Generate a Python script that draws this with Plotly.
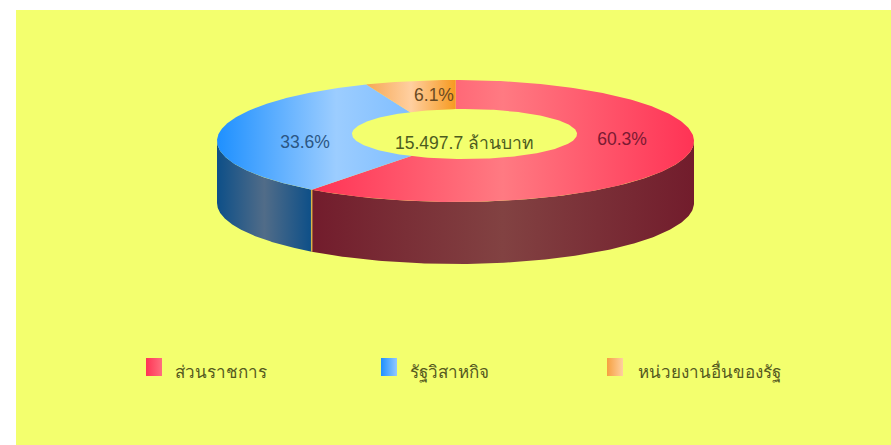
import numpy as np
import plotly.graph_objects as go

# --- data ---
categories = ["ส่วนราชการ", "รัฐวิสาหกิจ", "หน่วยงานอื่นของรัฐ"]
shares = [60.3, 33.6, 6.1]
total_label = "15.497.7 ล้านบาท"

# --- styling / geometry (not data) ---
W, H = 891, 445
BG = "#F3FF6E"
CX, CY, RX, RY, DEPTH = 455.5, 141.0, 238.5, 61.0, 62.0
HCX, HCY, HRX, HRY = 464.5, 134.0, 112.5, 25.0
FONT = "Liberation Sans, Noto Sans, DejaVu Sans, sans-serif"
THAI_FONT = "Noto Sans, Liberation Sans, DejaVu Sans, sans-serif"

top_scales = [
    ["#FF3355", "#FF7A82", "#FF3355"],
    ["#1E90FF", "#9CCDFF", "#6FB5FF"],
    ["#F6A855", "#FFCFA0", "#F79A20"],
]
side_scales = [
    ["#721C2C", "#824242", "#721C2C"],
    ["#0D4F88", "#516C88", "#0D4F88"],
    ["#8A5A20", "#A08050", "#8A5A20"],
]
swatch_scales = [
    ["#FF3355", "#FF6E7E"],
    ["#1E90FF", "#92C8FF"],
    ["#F6A040", "#FFD0A0"],
]
text_colors = ["#7A1A32", "#2B5684", "#6A4A22"]
pct_pos = [(622, 141), (305, 144), (434, 97)]
swatch_x = [146, 381, 607]
legend_text_x = [175, 410, 638]
legend_y = 374


def scale(colors):
    return [[i / (len(colors) - 1), c] for i, c in enumerate(colors)]


def ex(a, cx=CX, rx=RX):
    return cx + rx * np.sin(a)


def ey(a, cy=CY, ry=RY):
    return cy - ry * np.cos(a)


fig = go.Figure()


def poly(xs, ys, colors, orient="horizontal"):
    fig.add_trace(go.Scatter(
        x=xs, y=ys, mode="lines", fill="toself", line=dict(width=0),
        fillgradient=dict(type=orient, colorscale=scale(colors)),
        hoverinfo="skip", showlegend=False))


edges = np.concatenate([[0], np.cumsum(shares)]) / sum(shares) * 2 * np.pi

# side walls (only the front half of the cylinder is visible)
for i in range(len(shares)):
    a0, a1 = max(edges[i], np.pi / 2), min(edges[i + 1], 3 * np.pi / 2)
    if a1 <= a0:
        continue
    a = np.linspace(a0, a1, 160)
    xs = np.concatenate([ex(a), ex(a)[::-1]])
    ys = np.concatenate([ey(a), (ey(a) + DEPTH)[::-1]])
    poly(xs, ys, side_scales[i])

# thin light seam where two walls meet
for e in edges[1:-1]:
    if np.pi / 2 < e < 3 * np.pi / 2:
        fig.add_trace(go.Scatter(
            x=[ex(e), ex(e)], y=[ey(e), ey(e) + DEPTH], mode="lines",
            line=dict(color="#D8B44A", width=1.5),
            hoverinfo="skip", showlegend=False))

# top faces
for i in range(len(shares)):
    a = np.linspace(edges[i], edges[i + 1], 240)
    xs = np.concatenate([[CX], ex(a), [CX]])
    ys = np.concatenate([[CY], ey(a), [CY]])
    poly(xs, ys, top_scales[i])

# the hole
a = np.linspace(0, 2 * np.pi, 240)
fig.add_trace(go.Scatter(
    x=ex(a, HCX, HRX), y=ey(a, HCY, HRY), mode="lines", fill="toself",
    fillcolor=BG, line=dict(width=0), hoverinfo="skip", showlegend=False))

# percentage labels and the total
fig.add_trace(go.Scatter(
    x=[p[0] for p in pct_pos], y=[p[1] for p in pct_pos], mode="text",
    text=[f"{s:.1f}%" for s in shares], textposition="middle center",
    textfont=dict(family=FONT, size=17.5, color=text_colors),
    hoverinfo="skip", showlegend=False))
fig.add_trace(go.Scatter(
    x=[HCX], y=[145], mode="text", text=[total_label],
    textposition="middle center",
    textfont=dict(family=FONT, size=17.5, color="#4C5C1E"),
    hoverinfo="skip", showlegend=False))

# legend row
for i, name in enumerate(categories):
    x0 = swatch_x[i]
    poly([x0, x0 + 16, x0 + 16, x0, x0], [358, 358, 376, 376, 358], swatch_scales[i])
fig.add_trace(go.Scatter(
    x=legend_text_x, y=[legend_y] * 3, mode="text", text=categories,
    textposition="middle right",
    textfont=dict(family=THAI_FONT, size=17, color="#55591F"),
    hoverinfo="skip", showlegend=False))

fig.update_layout(
    width=W, height=H, paper_bgcolor="#FFFFFF", plot_bgcolor=BG,
    margin=dict(l=16, r=0, t=10, b=0), showlegend=False,
    xaxis=dict(range=[16, W], visible=False, fixedrange=True),
    yaxis=dict(range=[H, 10], visible=False, fixedrange=True),
)
fig.write_html("out.html", config={"displayModeBar": False},
               post_script="document.body.style.margin='0';")
